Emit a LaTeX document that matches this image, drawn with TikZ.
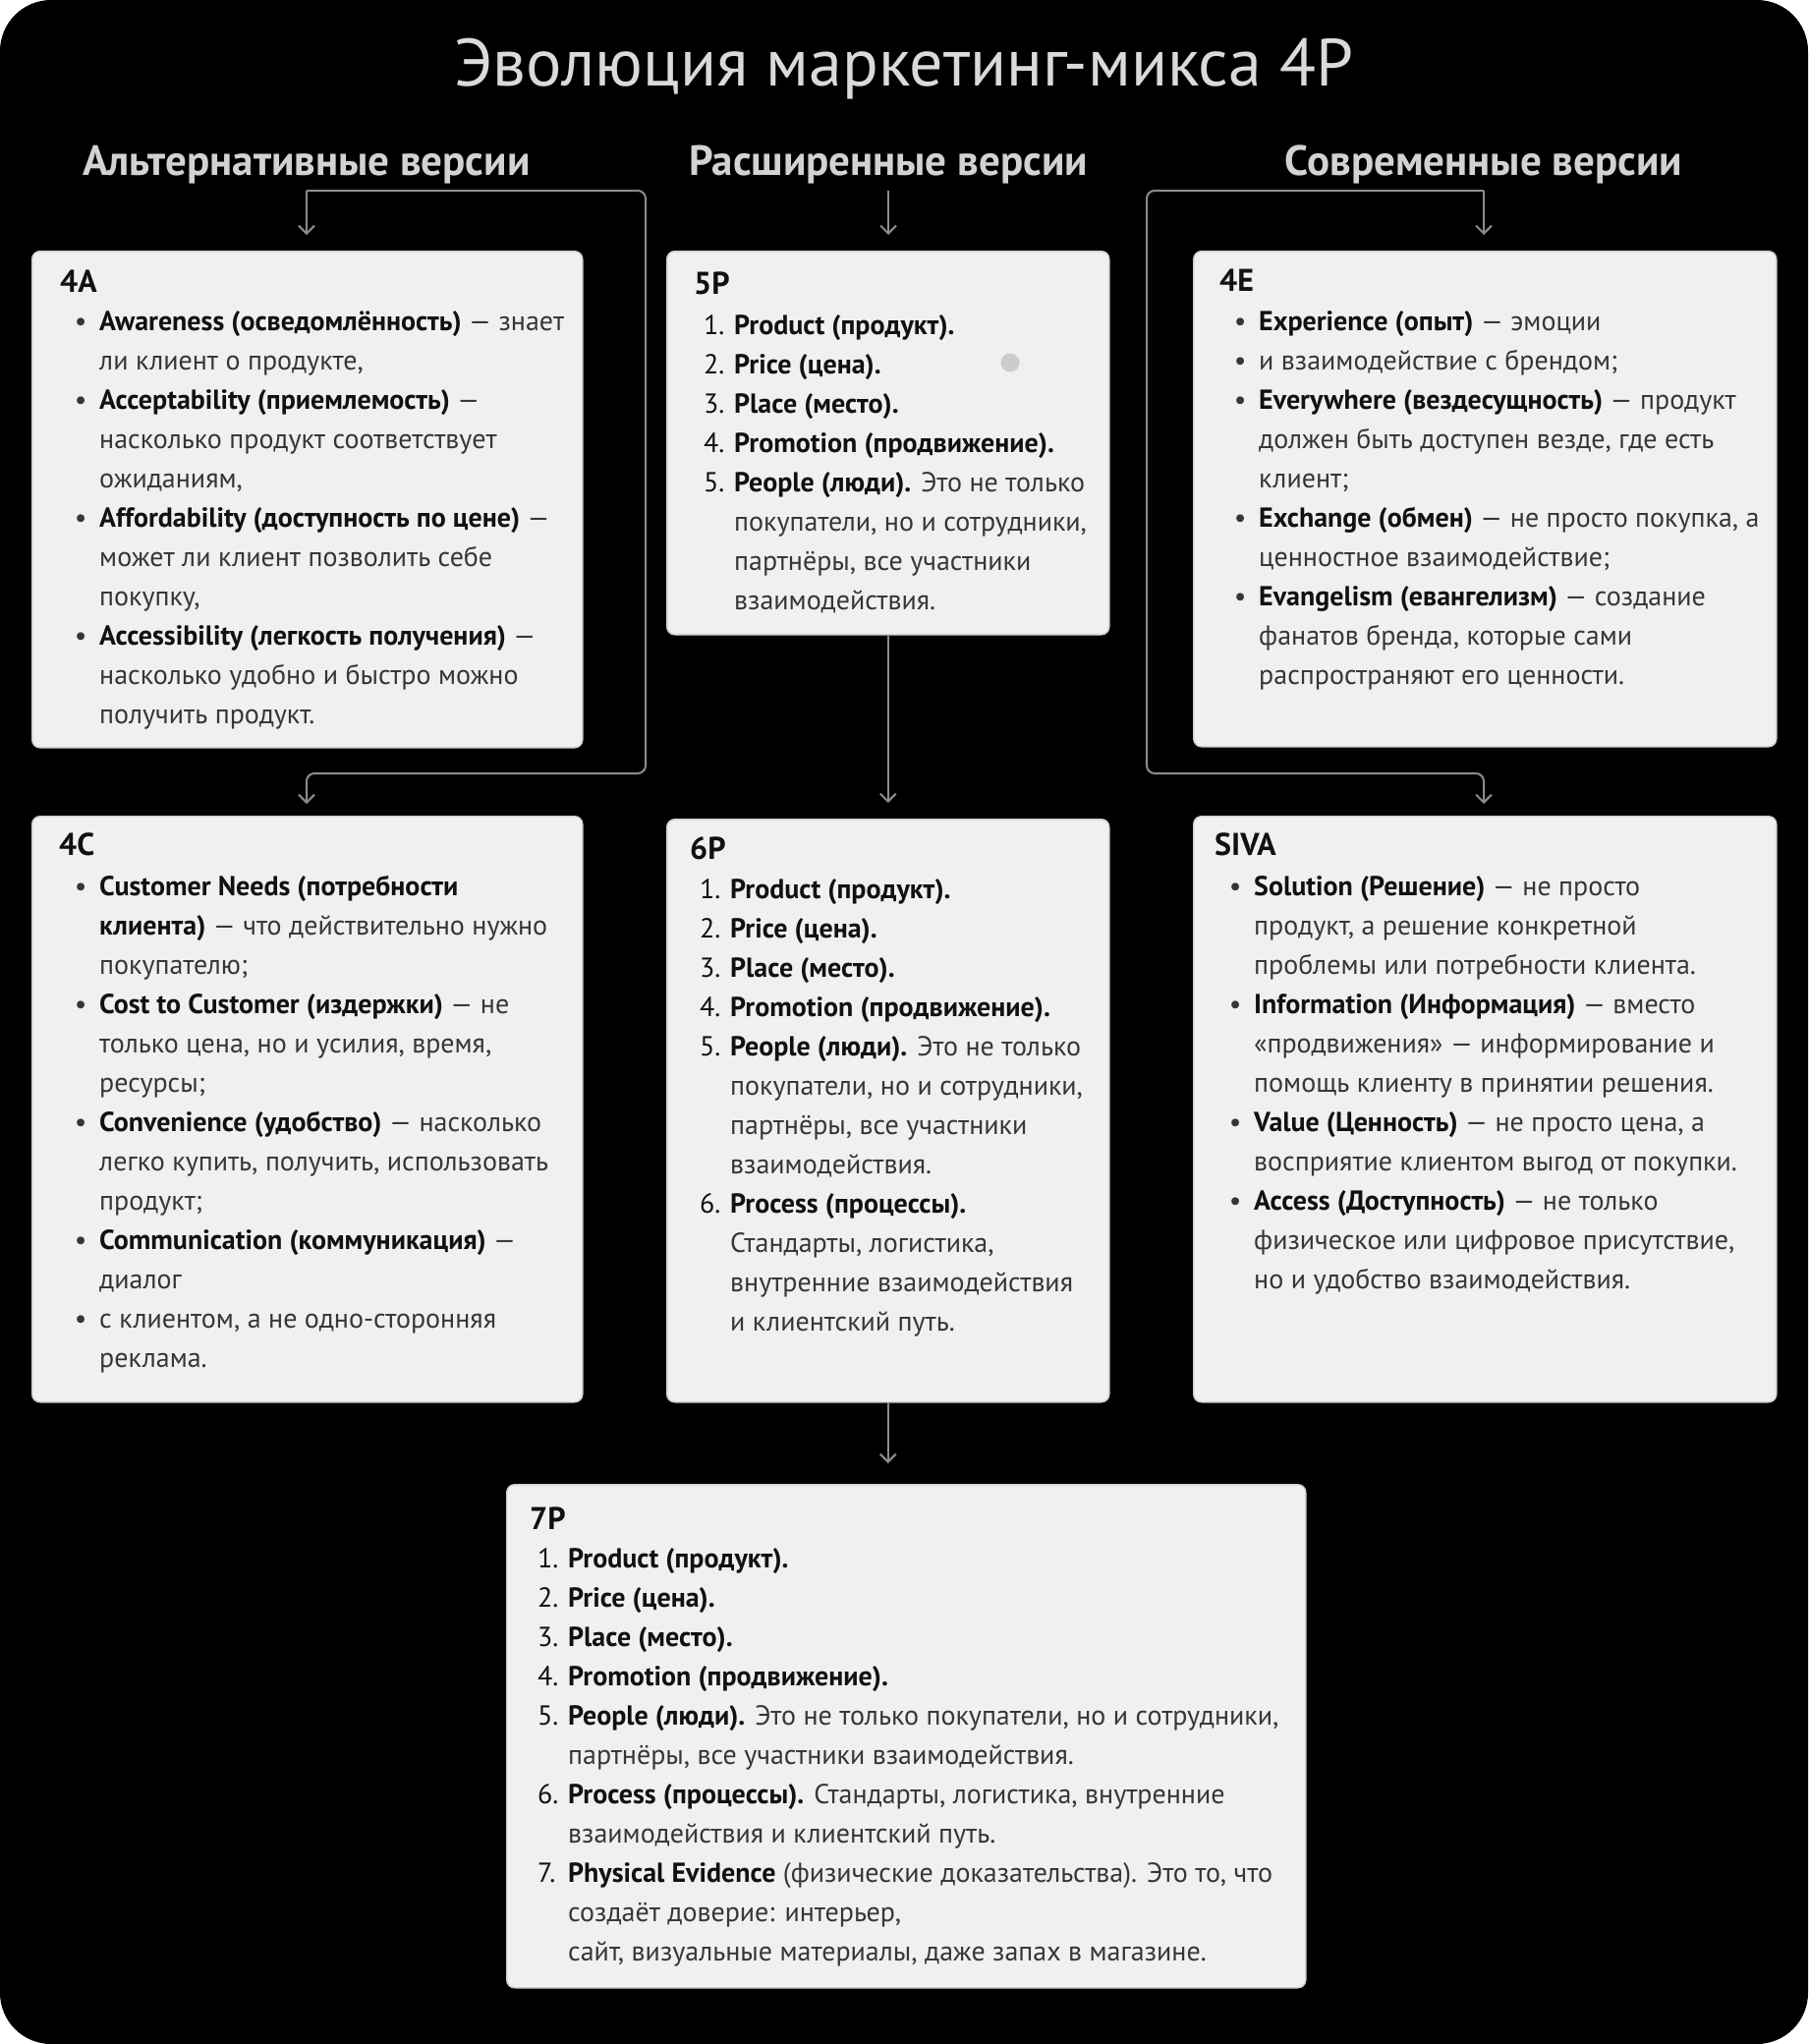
\documentclass[tikz,border=0pt]{standalone}
\usepackage{fontspec}
\setmainfont{PT Sans}
\usetikzlibrary{arrows.meta}
\definecolor{boxfill}{HTML}{F0F0F0}
\definecolor{boxline}{HTML}{D2D2D2}
\definecolor{connc}{HTML}{8C8C8C}
\definecolor{tbold}{HTML}{111111}
\definecolor{treg}{HTML}{363636}
\definecolor{headc}{HTML}{D2D2D2}
\definecolor{titc}{HTML}{DADADA}
\definecolor{dotc}{HTML}{CCCCCC}
\newcommand\bu{\llap{\makebox[38pt][c]{•}}}
\newcommand\numi[1]{\llap{\makebox[31pt][l]{\color{tbold}#1.}}}
\newcommand\B[1]{{\bfseries\color{tbold}#1}}
\tikzset{
 card/.style={draw=boxline, line width=1.5pt, fill=boxfill, rounded corners=8pt, inner sep=0pt, anchor=north west},
 cardtitle/.style={anchor=base west, inner sep=0pt, font=\fontsize{32}{36}\selectfont\bfseries, text=tbold},
 body/.style={anchor=base west, inner sep=0pt, font=\fontsize{28}{40}\selectfont, text=treg},
 link/.style={draw=connc, line width=2pt, -{Straight Barb[length=8pt, width=16pt]}, rounded corners=8pt},
 head/.style={anchor=base, inner sep=0pt, font=\fontsize{43}{46}\selectfont\bfseries, text=headc},
}
\begin{document}
\begin{tikzpicture}[x=1pt, y=-1pt]
\useasboundingbox (0,0) rectangle (1840,2080);
\fill[white] (0,0) rectangle (1840,2080);
\fill[black, rounded corners=52pt] (0,0) rectangle (1840,2080);

\node[anchor=base, inner sep=0pt, font=\fontsize{68}{72}\selectfont, text=titc] (title) at (920,87) {Эволюция маркетинг-микса 4P};
\node[head] (hA) at (312,178) {Альтернативные версии};
\node[head] (hB) at (904,178) {Расширенные версии};
\node[head] (hC) at (1510,178) {Современные версии};

% cards
\node[card, minimum width=560pt, minimum height=505pt] (bA4) at (32,255) {};
\node[card, minimum width=450pt, minimum height=390pt] (b5P) at (678,255) {};
\node[card, minimum width=593pt, minimum height=504pt] (b4E) at (1214,255) {};
\node[card, minimum width=560pt, minimum height=596pt] (b4C) at (32,830) {};
\node[card, minimum width=450pt, minimum height=593pt] (b6P) at (678,833) {};
\node[card, minimum width=593pt, minimum height=596pt] (bSIVA) at (1214,830) {};
\node[card, minimum width=813pt, minimum height=512pt] (b7P) at (515,1510) {};

% connectors
\coordinate (jA) at (312,194);
\coordinate (jB) at (904,194);
\coordinate (jC) at (1510,194);
\coordinate (rA) at (657,194);
\coordinate (lA) at (312,787);
\coordinate (rC) at (1167,194);
\coordinate (lC) at (1510,787);
\draw[link, shorten >=16pt] (jA) -- (jA |- bA4.north);
\draw[link, shorten >=12pt] (jA) -- (rA) |- (lA) -- (lA |- b4C.north);
\draw[link, shorten >=16pt] (jB) -- (jB |- b5P.north);
\draw[link, shorten >=16pt] (b5P.south) -- (b6P.north);
\draw[link, shorten >=21pt] (b6P.south) -- (b6P.south |- b7P.north);
\draw[link, shorten >=16pt] (jC) -- (jC |- b4E.north);
\draw[link, shorten >=12pt] (jC) -- (rC) |- (lC) -- (lC |- bSIVA.north);

\fill[dotc] (1028,369) circle (9.5pt);

% 4A
\node[cardtitle] (t4A) at (61,297) {4A};
\node[body] (x4A) at (101,336) {\begin{tabular}[t]{@{}l@{}}
\bu\B{Awareness (осведомлённость)} — знает\\
ли клиент о продукте,\\
\bu\B{Acceptability (приемлемость)} —\\
насколько продукт соответствует\\
ожиданиям,\\
\bu\B{Affordability (доступность по цене)} —\\
может ли клиент позволить себе\\
покупку,\\
\bu\B{Accessibility (легкость получения)} —\\
насколько удобно и быстро можно\\
получить продукт.
\end{tabular}};

% 5P
\node[cardtitle] (t5P) at (706,299) {5P};
\node[body] (x5P) at (747,340) {\begin{tabular}[t]{@{}l@{}}
\numi{1}\B{Product (продукт).}\\
\numi{2}\B{Price (цена).}\\
\numi{3}\B{Place (место).}\\
\numi{4}\B{Promotion (продвижение).}\\
\numi{5}\B{People (люди).} Это не только\\
покупатели, но и сотрудники,\\
партнёры, все участники\\
взаимодействия.
\end{tabular}};

% 4E
\node[cardtitle] (t4E) at (1241,296) {4E};
\node[body] (x4E) at (1281,336) {\begin{tabular}[t]{@{}l@{}}
\bu\B{Experience (опыт)} — эмоции\\
\bu и взаимодействие с брендом;\\
\bu\B{Everywhere (вездесущность)} — продукт\\
должен быть доступен везде, где есть\\
клиент;\\
\bu\B{Exchange (обмен)} — не просто покупка, а\\
ценностное взаимодействие;\\
\bu\B{Evangelism (евангелизм)} — создание\\
фанатов бренда, которые сами\\
распространяют его ценности.
\end{tabular}};

% 4C
\node[cardtitle] (t4C) at (60,870) {4C};
\node[body] (x4C) at (101,911) {\begin{tabular}[t]{@{}l@{}}
\bu\B{Customer Needs (потребности}\\
\B{клиента)} — что действительно нужно\\
покупателю;\\
\bu\B{Cost to Customer (издержки)} — не\\
только цена, но и усилия, время,\\
ресурсы;\\
\bu\B{Convenience (удобство)} — насколько\\
легко купить, получить, использовать\\
продукт;\\
\bu\B{Communication (коммуникация)} —\\
диалог\\
\bu с клиентом, а не одно-сторонняя\\
реклама.
\end{tabular}};

% 6P
\node[cardtitle] (t6P) at (702,874) {6P};
\node[body] (x6P) at (743,914) {\begin{tabular}[t]{@{}l@{}}
\numi{1}\B{Product (продукт).}\\
\numi{2}\B{Price (цена).}\\
\numi{3}\B{Place (место).}\\
\numi{4}\B{Promotion (продвижение).}\\
\numi{5}\B{People (люди).} Это не только\\
покупатели, но и сотрудники,\\
партнёры, все участники\\
взаимодействия.\\
\numi{6}\B{Process (процессы).}\\
Стандарты, логистика,\\
внутренние взаимодействия\\
и клиентский путь.
\end{tabular}};

% SIVA
\node[cardtitle] (tSIVA) at (1236,870) {SIVA};
\node[body] (xSIVA) at (1276,911) {\begin{tabular}[t]{@{}l@{}}
\bu\B{Solution (Решение)} — не просто\\
продукт, а решение конкретной\\
проблемы или потребности клиента.\\
\bu\B{Information (Информация)} — вместо\\
«продвижения» — информирование и\\
помощь клиенту в принятии решения.\\
\bu\B{Value (Ценность)} — не просто цена, а\\
восприятие клиентом выгод от покупки.\\
\bu\B{Access (Доступность)} — не только\\
физическое или цифровое присутствие,\\
но и удобство взаимодействия.
\end{tabular}};

% 7P
\node[cardtitle] (t7P) at (539,1556) {7P};
\node[body] (x7P) at (578,1595) {\begin{tabular}[t]{@{}l@{}}
\numi{1}\B{Product (продукт).}\\
\numi{2}\B{Price (цена).}\\
\numi{3}\B{Place (место).}\\
\numi{4}\B{Promotion (продвижение).}\\
\numi{5}\B{People (люди).} Это не только покупатели, но и сотрудники,\\
партнёры, все участники взаимодействия.\\
\numi{6}\B{Process (процессы).} Стандарты, логистика, внутренние\\
взаимодействия и клиентский путь.\\
\numi{7}\B{Physical Evidence} (физические доказательства). Это то, что\\
создаёт доверие: интерьер,\\
сайт, визуальные материалы, даже запах в магазине.
\end{tabular}};
\end{tikzpicture}
\end{document}
